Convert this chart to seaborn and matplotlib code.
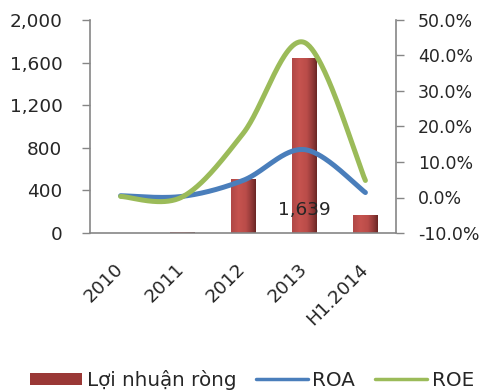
import numpy as np
import pandas as pd
import matplotlib
matplotlib.use("Agg")
import matplotlib.pyplot as plt
import seaborn as sns
from matplotlib.colors import LinearSegmentedColormap
from matplotlib.ticker import FuncFormatter, FixedLocator
from matplotlib.lines import Line2D
from matplotlib.patches import Patch

categories = ["2010", "2011", "2012", "2013", "H1.2014"]
profit = [0, 8, 510, 1639, 170]
roa = [0.005, 0.003, 0.048, 0.135, 0.014]
roe = [0.003, 0.001, 0.180, 0.437, 0.048]
left_ticks = [0, 400, 800, 1200, 1600, 2000]
right_ticks = [-0.10, 0.0, 0.10, 0.20, 0.30, 0.40, 0.50]

sns.set_style("white")
plt.rcParams["font.family"] = ["DejaVu Sans"]

GRAY = "#868686"
BAR = "#C0504D"
BLUE = "#4A7EBB"
GREEN = "#9BBB59"
FS = 13.3
RFS = 12.5
LFS = 14.3


def smooth(ys, n=60):
    """Excel-like smoothed line (Catmull-Rom style Bezier) through the points."""
    p = np.column_stack([np.arange(len(ys), dtype=float), np.asarray(ys, float)])
    out = []
    for i in range(len(p) - 1):
        p0 = p[i - 1] if i > 0 else p[i]
        p1, p2 = p[i], p[i + 1]
        p3 = p[i + 2] if i + 2 < len(p) else p[i + 1]
        c1 = p1 + (p2 - p0) / 6.0
        c2 = p2 - (p3 - p1) / 6.0
        t = np.linspace(0, 1, n)[:, None]
        seg = ((1 - t) ** 3) * p1 + 3 * ((1 - t) ** 2) * t * c1 + 3 * (1 - t) * t ** 2 * c2 + t ** 3 * p2
        out.append(seg if i == 0 else seg[1:])
    out = np.vstack(out)
    return out[:, 0], out[:, 1]


fig = plt.figure(figsize=(4.82, 3.91), dpi=100)
ax = fig.add_axes([90 / 482, 1 - 233 / 391, 306 / 482, 213 / 391])

df = pd.DataFrame({"cat": categories, "profit": profit})
sns.barplot(data=df, x="cat", y="profit", ax=ax, color=BAR, width=0.4,
            saturation=1, edgecolor="none")

# gradient fill for the bars
cmap = LinearSegmentedColormap.from_list(
    "bar", [(0, "#B04846"), (0.3, "#C6534F"), (0.6, "#BA4C49"),
            (0.85, "#8E3836"), (1, "#6A2624")])
grad = np.linspace(0, 1, 64)[None, :]
for p in ax.patches:
    x0, y0 = p.get_x(), p.get_y()
    w, h = p.get_width(), p.get_height()
    if h <= 0:
        continue
    im = ax.imshow(grad, cmap=cmap, extent=[x0, x0 + w, y0, y0 + h],
                   aspect="auto", zorder=p.get_zorder() + 0.1, interpolation="bilinear")
    im.set_clip_path(p)

ax.set_xlim(-0.5, 4.5)
ax.set_ylim(0, 2000)
ax.yaxis.set_major_locator(FixedLocator(left_ticks))
ax.yaxis.set_major_formatter(FuncFormatter(lambda v, _: f"{int(v):,}"))
ax.set_xlabel("")
ax.set_ylabel("")
ax.set_xticks(np.arange(-0.5, 5.0, 1.0), minor=False)
ax.set_xticklabels([])
ax.set_xticks(np.arange(5), minor=True)
ax.set_xticklabels(categories, minor=True, rotation=45, ha="right", va="center",
                   rotation_mode="anchor", fontsize=FS)
ax.tick_params(axis="x", which="major", length=5, width=1, color=GRAY, direction="out")
ax.tick_params(axis="x", which="minor", length=0, pad=24)
ax.tick_params(axis="y", length=5.8, width=1, color=GRAY, direction="out", labelsize=FS, pad=14)

for s in ["top", "right"]:
    ax.spines[s].set_visible(False)
for s in ["left", "bottom"]:
    ax.spines[s].set_color(GRAY)
    ax.spines[s].set_linewidth(1.2)

# data label
ax.text(3, 216, f"{profit[3]:,}", ha="center", va="center", fontsize=FS, zorder=10)

ax2 = ax.twinx()
xs, ys = smooth(roa)
ax2.plot(xs, ys, color=BLUE, lw=3.6, solid_capstyle="round")
xs, ys = smooth(roe)
ax2.plot(xs, ys, color=GREEN, lw=3.6, solid_capstyle="round")
ax2.set_ylim(-0.10, 0.50)
ax2.yaxis.set_major_locator(FixedLocator(right_ticks))
ax2.yaxis.set_major_formatter(FuncFormatter(lambda v, _: f"{v * 100:.1f}%"))
ax2.tick_params(axis="y", length=5.8, width=1, color=GRAY, direction="out", labelsize=RFS, pad=10)
for s in ["top", "left", "bottom"]:
    ax2.spines[s].set_visible(False)
ax2.spines["right"].set_color(GRAY)
ax2.spines["right"].set_linewidth(1.2)
ax2.set_xlim(-0.5, 4.5)

handles = [Patch(facecolor="#9A3836", edgecolor="none"),
           Line2D([0], [0], color=BLUE, lw=2.5),
           Line2D([0], [0], color=GREEN, lw=2.5)]
labels = ["Lợi nhuận ròng", "ROA", "ROE"]
fig.legend(handles, labels, loc="center", bbox_to_anchor=(252 / 482, 1 - 380 / 391),
           ncol=3, frameon=False, fontsize=LFS, handlelength=2.6, handleheight=0.55,
           handletextpad=0.25, columnspacing=1.0, borderpad=0, borderaxespad=0)

fig.savefig("out.png", dpi=100)
